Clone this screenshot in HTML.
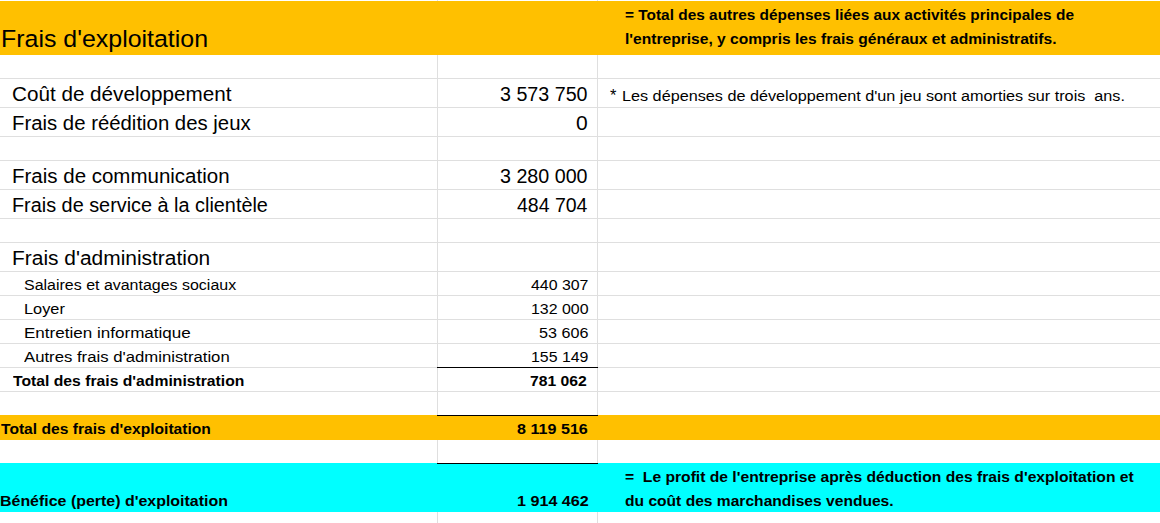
<!DOCTYPE html>
<html><head><meta charset="utf-8"><style>
html,body{margin:0;padding:0;background:#fff;}
body{width:1160px;height:523px;position:relative;overflow:hidden;font-family:"Liberation Sans",sans-serif;color:#000;}
.b{position:absolute;}
.t{position:absolute;white-space:pre;line-height:1;transform-origin:0 0;}
</style></head><body>
<div class=b style="left:0;top:1px;width:1160px;height:54px;background:#ffc000"></div>
<div class=b style="left:0;top:78px;width:1160px;height:1px;background:#dfdfdf"></div>
<div class=b style="left:0;top:107px;width:1160px;height:1px;background:#dfdfdf"></div>
<div class=b style="left:0;top:136px;width:1160px;height:1px;background:#dfdfdf"></div>
<div class=b style="left:0;top:160px;width:1160px;height:1px;background:#dfdfdf"></div>
<div class=b style="left:0;top:189px;width:1160px;height:1px;background:#dfdfdf"></div>
<div class=b style="left:0;top:218px;width:1160px;height:1px;background:#dfdfdf"></div>
<div class=b style="left:0;top:242px;width:1160px;height:1px;background:#dfdfdf"></div>
<div class=b style="left:0;top:271px;width:1160px;height:1px;background:#dfdfdf"></div>
<div class=b style="left:0;top:295px;width:1160px;height:1px;background:#dfdfdf"></div>
<div class=b style="left:0;top:319px;width:1160px;height:1px;background:#dfdfdf"></div>
<div class=b style="left:0;top:343px;width:1160px;height:1px;background:#dfdfdf"></div>
<div class=b style="left:0;top:367px;width:1160px;height:1px;background:#dfdfdf"></div>
<div class=b style="left:0;top:391px;width:1160px;height:1px;background:#dfdfdf"></div>
<div class=b style="left:437px;top:55px;width:1px;height:360px;background:#dfdfdf"></div>
<div class=b style="left:437px;top:440px;width:1px;height:23px;background:#dfdfdf"></div>
<div class=b style="left:437px;top:512px;width:1px;height:11px;background:#dfdfdf"></div>
<div class=b style="left:597px;top:55px;width:1px;height:360px;background:#dfdfdf"></div>
<div class=b style="left:597px;top:440px;width:1px;height:23px;background:#dfdfdf"></div>
<div class=b style="left:597px;top:512px;width:1px;height:11px;background:#dfdfdf"></div>
<div class=b style="left:437px;top:0;width:1px;height:1px;background:#d8dcf0"></div>
<div class=b style="left:597px;top:0;width:1px;height:1px;background:#d8dcf0"></div>
<div class=b style="left:0;top:415px;width:1160px;height:25px;background:#ffc000"></div>
<div class=b style="left:0;top:463px;width:1160px;height:49px;background:#00ffff"></div>
<div class=b style="left:437px;top:367px;width:161px;height:1px;background:#000"></div>
<div class=b style="left:437px;top:415px;width:161px;height:1px;background:#000"></div>
<div class=b style="left:437px;top:463px;width:161px;height:1px;background:#000"></div>
<span class=t style="left:1.46px;top:27.00px;font-size:24.5px;font-weight:normal;transform:scaleX(1.0175)">Frais d'exploitation</span>
<span class=t style="left:11.94px;top:85.00px;font-size:19.5px;font-weight:normal;transform:scaleX(1.0597)">Coût de développement</span>
<span class=t style="left:499.59px;top:85.00px;font-size:19.5px;font-weight:normal;transform:scaleX(1.0094)">3 573 750</span>
<span class=t style="left:12.11px;top:114.00px;font-size:19.5px;font-weight:normal;transform:scaleX(1.0434)">Frais de réédition des jeux</span>
<span class=t style="left:575.62px;top:114.00px;font-size:19.5px;font-weight:normal;transform:scaleX(1.0778)">0</span>
<span class=t style="left:12.10px;top:167.00px;font-size:19.5px;font-weight:normal;transform:scaleX(1.0510)">Frais de communication</span>
<span class=t style="left:499.59px;top:167.00px;font-size:19.5px;font-weight:normal;transform:scaleX(1.0094)">3 280 000</span>
<span class=t style="left:12.16px;top:196.00px;font-size:19.5px;font-weight:normal;transform:scaleX(1.0177)">Frais de service à la clientèle</span>
<span class=t style="left:516.50px;top:196.00px;font-size:19.5px;font-weight:normal;transform:scaleX(0.9986)">484 704</span>
<span class=t style="left:12.05px;top:249.00px;font-size:19.5px;font-weight:normal;transform:scaleX(1.0731)">Frais d'administration</span>
<span class=t style="left:23.57px;top:277.00px;font-size:15.5px;font-weight:normal;transform:scaleX(1.0302)">Salaires et avantages sociaux</span>
<span class=t style="left:531.00px;top:277.00px;font-size:15.5px;font-weight:normal;transform:scaleX(1.0250)">440 307</span>
<span class=t style="left:23.55px;top:301.00px;font-size:15.5px;font-weight:normal;transform:scaleX(1.0526)">Loyer</span>
<span class=t style="left:530.87px;top:301.00px;font-size:15.5px;font-weight:normal;transform:scaleX(1.0273)">132 000</span>
<span class=t style="left:23.50px;top:325.00px;font-size:15.5px;font-weight:normal;transform:scaleX(1.1000)">Entretien informatique</span>
<span class=t style="left:539.46px;top:325.00px;font-size:15.5px;font-weight:normal;transform:scaleX(1.0413)">53 606</span>
<span class=t style="left:24.20px;top:349.00px;font-size:15.5px;font-weight:normal;transform:scaleX(1.0784)">Autres frais d'administration</span>
<span class=t style="left:530.97px;top:349.00px;font-size:15.5px;font-weight:normal;transform:scaleX(1.0255)">155 149</span>
<span class=t style="left:610.00px;top:87.00px;font-size:16.5px;font-weight:normal;transform:scaleX(1.0000)">*</span>
<span class=t style="left:622.05px;top:88.00px;font-size:15.5px;font-weight:normal;transform:scaleX(1.0453)">Les dépenses de développement d'un jeu sont amorties sur trois  ans.</span>
<span class=t style="left:12.90px;top:373.00px;font-size:15.5px;font-weight:bold;transform:scaleX(1.0141)">Total des frais d'administration</span>
<span class=t style="left:530.29px;top:373.00px;font-size:15.5px;font-weight:bold;transform:scaleX(1.0145)">781 062</span>
<span class=t style="left:1.30px;top:421.00px;font-size:15.5px;font-weight:bold;transform:scaleX(1.0072)">Total des frais d'exploitation</span>
<span class=t style="left:517.10px;top:421.00px;font-size:15.5px;font-weight:bold;transform:scaleX(1.0397)">8 119 516</span>
<span class=t style="left:0.27px;top:493.00px;font-size:15.5px;font-weight:bold;transform:scaleX(1.0286)">Bénéfice (perte) d'exploitation</span>
<span class=t style="left:516.66px;top:493.00px;font-size:15.5px;font-weight:bold;transform:scaleX(1.0403)">1 914 462</span>
<span class=t style="left:624.91px;top:7.00px;font-size:15.5px;font-weight:bold;transform:scaleX(0.9942)">= Total des autres dépenses liées aux activités principales de</span>
<span class=t style="left:624.89px;top:31.00px;font-size:15.5px;font-weight:bold;transform:scaleX(1.0054)">l'entreprise, y compris les frais généraux et administratifs.</span>
<span class=t style="left:625.09px;top:469.00px;font-size:15.5px;font-weight:bold;transform:scaleX(1.0095)">=  Le profit de l'entreprise après déduction des frais d'exploitation et</span>
<span class=t style="left:624.99px;top:493.00px;font-size:15.5px;font-weight:bold;transform:scaleX(1.0060)">du coût des marchandises vendues.</span>
</body></html>
